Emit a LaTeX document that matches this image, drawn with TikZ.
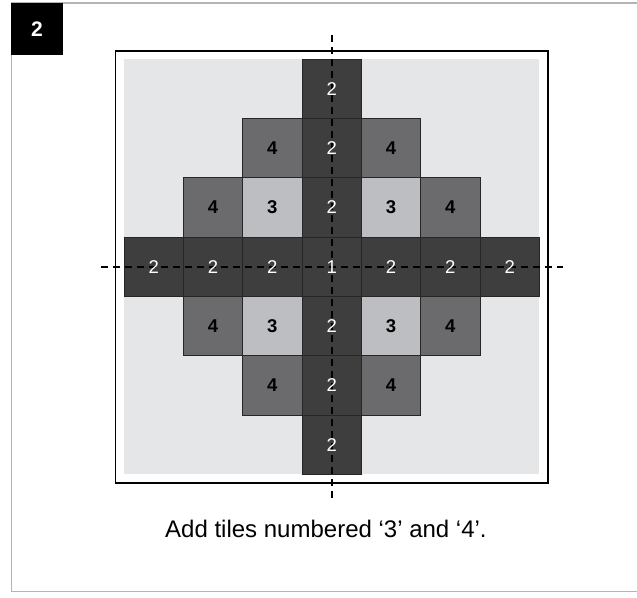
\documentclass[tikz,border=0pt]{standalone}
\usepackage{fontspec}
\setmainfont{Liberation Sans}
\usepackage{xcolor}
\usepackage{tikz}
\definecolor{tiledark} {RGB}{ 62, 62, 62}
\definecolor{tilemid}  {RGB}{107,107,110}
\definecolor{tilelight}{RGB}{189,190,193}
\definecolor{tilebg}   {RGB}{229,230,232}
\definecolor{framegray}{RGB}{180,180,180}

\begin{document}
\begin{tikzpicture}[
      x=59.33pt, y=59.33pt,
      tile/.style={draw=black!85, line width=0.7pt, minimum size=59.33pt,
                   inner sep=0pt},
      dtile/.style={tile, fill=tiledark},
      mtile/.style={tile, fill=tilemid},
      ltile/.style={tile, fill=tilelight},
      wnum/.style={text=white, font=\fontsize{18.5}{20}\selectfont},
      bnum/.style={text=black, font=\fontsize{18.5}{20}\selectfont\bfseries},
      axis/.style={line width=2.2pt, dash pattern=on 7pt off 5pt},
    ]
      \useasboundingbox (-5.590,-5.568) rectangle (5.146,4.495);

      % Page frame and step label
      \draw[framegray, line width=1.5pt]
            (5.146,4.444) -- (-5.396,4.444) -- (-5.396,-5.478) -- (5.146,-5.478);
      \node[fill=black, minimum size=52pt, inner sep=0pt,
            text=white, font=\fontsize{21}{24}\selectfont\bfseries]
            (step) at (-4.966,4.006) {2};

      % Board
      \draw[line width=1.5pt] (-3.64,-3.645) rectangle (3.645,3.635);
      \fill[tilebg] (-3.5,-3.5) rectangle (3.5,3.5);

      % Tiles
      \node[dtile] (t03) at ( 0, 3) {};
      \node[mtile] (t-12) at (-1, 2) {};
      \node[dtile] (t02)  at ( 0, 2) {};
      \node[mtile] (t12)  at ( 1, 2) {};
      \node[mtile] (t-21) at (-2, 1) {};
      \node[ltile] (t-11) at (-1, 1) {};
      \node[dtile] (t01)  at ( 0, 1) {};
      \node[ltile] (t11)  at ( 1, 1) {};
      \node[mtile] (t21)  at ( 2, 1) {};
      \node[dtile] (t-30) at (-3, 0) {};
      \node[dtile] (t-20) at (-2, 0) {};
      \node[dtile] (t-10) at (-1, 0) {};
      \node[dtile] (t00)  at ( 0, 0) {};
      \node[dtile] (t10)  at ( 1, 0) {};
      \node[dtile] (t20)  at ( 2, 0) {};
      \node[dtile] (t30)  at ( 3, 0) {};
      \node[mtile] (t-2-1) at (-2,-1) {};
      \node[ltile] (t-1-1) at (-1,-1) {};
      \node[dtile] (t0-1)  at ( 0,-1) {};
      \node[ltile] (t1-1)  at ( 1,-1) {};
      \node[mtile] (t2-1)  at ( 2,-1) {};
      \node[mtile] (t-1-2) at (-1,-2) {};
      \node[dtile] (t0-2)  at ( 0,-2) {};
      \node[mtile] (t1-2)  at ( 1,-2) {};
      \node[dtile] (t0-3)  at ( 0,-3) {};

      % Axes
      \draw[axis] (0,3.9) -- (0,-3.9);
      \draw[axis] (-3.89,0) -- (3.9,0);

      % Numbers
      \node[wnum] at (t03) {2};
      \node[bnum] at (t-12) {4}; \node[wnum] at (t02) {2}; \node[bnum] at (t12) {4};
      \node[bnum] at (t-21) {4}; \node[bnum] at (t-11) {3}; \node[wnum] at (t01) {2};
      \node[bnum] at (t11) {3};  \node[bnum] at (t21) {4};
      \node[wnum] at (t-30) {2}; \node[wnum] at (t-20) {2}; \node[wnum] at (t-10) {2};
      \node[wnum] at (t00) {1};
      \node[wnum] at (t10) {2};  \node[wnum] at (t20) {2};  \node[wnum] at (t30) {2};
      \node[bnum] at (t-2-1) {4}; \node[bnum] at (t-1-1) {3}; \node[wnum] at (t0-1) {2};
      \node[bnum] at (t1-1) {3};  \node[bnum] at (t2-1) {4};
      \node[bnum] at (t-1-2) {4}; \node[wnum] at (t0-2) {2}; \node[bnum] at (t1-2) {4};
      \node[wnum] at (t0-3) {2};

      % Caption
      \node[font=\fontsize{24}{28}\selectfont] (cap) at (-0.096,-4.416)
            {Add tiles numbered ‘3’ and ‘4’.};
\end{tikzpicture}
\end{document}
